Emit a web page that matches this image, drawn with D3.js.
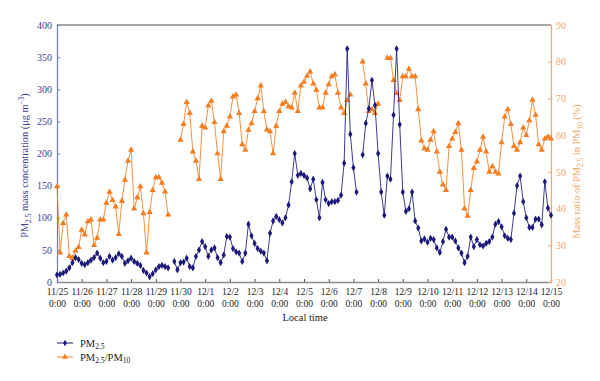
<!DOCTYPE html>
<html><head><meta charset="utf-8">
<script src="https://cdn.jsdelivr.net/npm/d3@7"></script>
<style>body{margin:0;background:#fff}</style>
</head><body><svg id="c" width="600" height="381"></svg>
<script>
// categories (day ticks)
const dayLabels = ["11/25","11/26","11/27","11/28","11/29","11/30","12/1","12/2","12/3","12/4","12/5","12/6","12/7","12/8","12/9","12/10","12/11","12/12","12/13","12/14","12/15"];
const leftTicks = [0,50,100,150,200,250,300,350,400];
const rightTicks = [20,30,40,50,60,70,80,90];
const stepHours = 3;
// PM2.5 (µg m-3), every 3 h from 11/25 0:00
const pm25 = [
 11,12,14,17,22,30,38,35,
 29,27,30,34,38,45,37,30,
 32,40,34,38,44,40,29,33,
 37,32,29,26,18,14,8,13,
 19,24,26,24,22,null,32,19,
 30,31,37,24,22,40,50,63,
 55,40,50,53,38,30,42,71,
 70,52,47,45,32,45,90,72,
 60,52,48,45,33,76,95,102,
 97,92,100,120,156,200,166,169,
 166,162,145,160,128,100,155,128,
 122,125,125,127,135,185,363,230,
 178,140,null,198,247,270,314,275,
 200,140,104,165,160,260,363,245,
 140,110,114,140,95,84,64,67,
 62,68,66,53,46,63,82,70,
 70,64,53,45,30,40,70,55,
 66,58,56,60,63,70,90,94,
 86,72,68,66,107,150,165,125,
 100,85,85,98,98,89,156,115,
 104];
// PM2.5/PM10 ratio (%)
const ratio = [
 46,28,36,38.3,27,26.5,28.5,29.5,
 34.2,32.9,36.5,37,30,32,37,37,
 41.5,44.5,42.3,40.5,33,42,47.8,53,
 56,40,43,46,38.7,28,39,45,
 48.5,48.5,47,44.6,38.3,null,null,null,
 58.7,63,69,66,55.5,53,48,62.5,
 62,68,69.3,63.5,55,48,61,62.5,
 65,70.5,71,66,57.5,56,61.4,63.2,
 66.5,70,73.5,66.5,61.5,61,55,62.5,
 66.5,68.5,69,67.8,67.5,71.5,66.5,73.5,
 74.5,76.1,77.3,74,72.3,67.5,67.5,71.5,
 73.8,76,76.5,71.5,67.5,66,69.5,71,
 null,null,null,80,74,66.5,67,66,
 68.5,null,null,81,81,75,71.4,69.5,
 76,76,78,76,76,67,58.5,56.4,
 56,58.7,61,55.5,50,46.5,45,57,
 59,60.8,63.2,56,40,38,45,51,
 52.8,56,59.5,55.5,50,51.5,50,49.5,
 58,65,67,63,57,56,58,62,
 60,64,69.6,65.5,57.5,56,59,59.5,
 59];

const blue = "#1c1a78", orange = "#f47d20";
const leftCol = "#3b3d8c", rightCol = "#f5a666";
const L = 57, R = 551, T = 25, B = 282;
const svg = d3.select("#c");
const font = "'Liberation Serif','DejaVu Serif',serif";

const x = d3.scaleLinear().domain([0, dayLabels.length - 1]).range([L, R]);
const yL = d3.scaleLinear().domain([0, 400]).range([B, T]);
const yR = d3.scaleLinear().domain([20, 90]).range([B, T]);
const tOf = i => i * stepHours / 24;

// top border
svg.append("line").attr("x1", L).attr("x2", R).attr("y1", T).attr("y2", T)
  .attr("stroke", "#8a8a8a").attr("stroke-width", 1.3);

// bottom axis
const gx = svg.append("g").attr("transform", `translate(0,${B})`)
  .call(d3.axisBottom(x).tickValues(d3.range(dayLabels.length)).tickSize(-3).tickFormat(""));
gx.select(".domain").attr("stroke", "#8a8a8a").attr("stroke-width", 1.3);
gx.selectAll(".tick line").attr("stroke", "#555");
gx.selectAll(".tick").each(function(d) {
  const t = d3.select(this).append("text").attr("fill", "#222")
    .attr("font-family", font).attr("font-size", 9.5).attr("text-anchor", "middle");
  t.append("tspan").attr("x", 0).attr("y", 13).text(dayLabels[d]);
  t.append("tspan").attr("x", 0).attr("y", 25).text("0:00");
});

// left axis
const gl = svg.append("g").attr("transform", `translate(${L},0)`)
  .call(d3.axisLeft(yL).tickValues(leftTicks).tickSize(-3).tickPadding(5));
gl.select(".domain").attr("stroke", "#7478bf").attr("stroke-width", 1.2);
gl.selectAll(".tick line").attr("stroke", "#7478bf");
gl.selectAll(".tick text").attr("fill", leftCol).attr("font-family", font).attr("font-size", 10);

// right axis
const gr = svg.append("g").attr("transform", `translate(${R},0)`)
  .call(d3.axisRight(yR).tickValues(rightTicks).tickSize(-3).tickPadding(5));
gr.select(".domain").attr("stroke", rightCol).attr("stroke-width", 1.2);
gr.selectAll(".tick line").attr("stroke", rightCol);
gr.selectAll(".tick text").attr("fill", rightCol).attr("font-family", font).attr("font-size", 10);

function rich(t, parts, fs) {
  parts.forEach(p => {
    const s = t.append("tspan").text(p.t);
    if (p.sub) s.attr("font-size", fs * 0.72).attr("dy", fs * 0.28);
    else if (p.sup) s.attr("font-size", fs * 0.72).attr("dy", -fs * 0.4);
    if (p.back) s.attr("dy", p.back);
  });
}

// axis titles
const lt = svg.append("text").attr("transform", `translate(28,${(T + B) / 2 + 12}) rotate(-90)`)
  .attr("text-anchor", "middle").attr("fill", leftCol).attr("font-family", font).attr("font-size", 10.3);
rich(lt, [{t:"PM"},{t:"2.5",sub:true},{t:" mass concentration (μg m",back:-2.9},{t:"−3",sup:true},{t:")",back:4.1}], 10.3);

const rt = svg.append("text").attr("transform", `translate(580,${(T + B) / 2 + 18}) rotate(-90)`)
  .attr("text-anchor", "middle").attr("fill", rightCol).attr("font-family", font).attr("font-size", 10.3);
rich(rt, [{t:"Mass ratio of PM"},{t:"2.5",sub:true},{t:" in PM",back:-2.9},{t:"10",sub:true},{t:" (%)",back:-2.9}], 10.3);

svg.append("text").attr("x", 305).attr("y", 321).attr("text-anchor", "middle")
  .attr("fill", "#222").attr("font-family", font).attr("font-size", 10.5).text("Local time");

// series
function drawSeries(data, y, col, sym, size) {
  const pts = data.map((v, i) => ({t: tOf(i), v}));
  const line = d3.line().defined(d => d.v != null).x(d => x(d.t)).y(d => y(d.v));
  svg.append("path").datum(pts).attr("d", line).attr("fill", "none")
    .attr("stroke", col).attr("stroke-width", 1).attr("stroke-opacity", 0.85);
  svg.append("g").selectAll("path").data(pts.filter(d => d.v != null)).join("path")
    .attr("transform", d => `translate(${x(d.t)},${y(d.v)})`)
    .attr("d", d3.symbol().type(sym).size(size)).attr("fill", col);
}
drawSeries(ratio, yR, orange, d3.symbolTriangle, 17);
drawSeries(pm25, yL, blue, d3.symbolDiamond, 15);

// legend
const leg = [
  {col: blue, sym: d3.symbolDiamond, size: 13, parts: [{t:"PM"},{t:"2.5",sub:true}]},
  {col: orange, sym: d3.symbolTriangle, size: 15, parts: [{t:"PM"},{t:"2.5",sub:true},{t:"/PM",back:-2.9},{t:"10",sub:true}]}
];
leg.forEach((l, i) => {
  const yy = 343 + i * 14;
  svg.append("line").attr("x1", 57).attr("x2", 73).attr("y1", yy).attr("y2", yy)
    .attr("stroke", l.col).attr("stroke-width", 1);
  svg.append("path").attr("transform", `translate(65,${yy})`)
    .attr("d", d3.symbol().type(l.sym).size(l.size)).attr("fill", l.col);
  const t = svg.append("text").attr("x", 80).attr("y", yy + 3.5).attr("fill", "#222")
    .attr("font-family", font).attr("font-size", 10.5);
  rich(t, l.parts, 10.5);
});
</script></body></html>
